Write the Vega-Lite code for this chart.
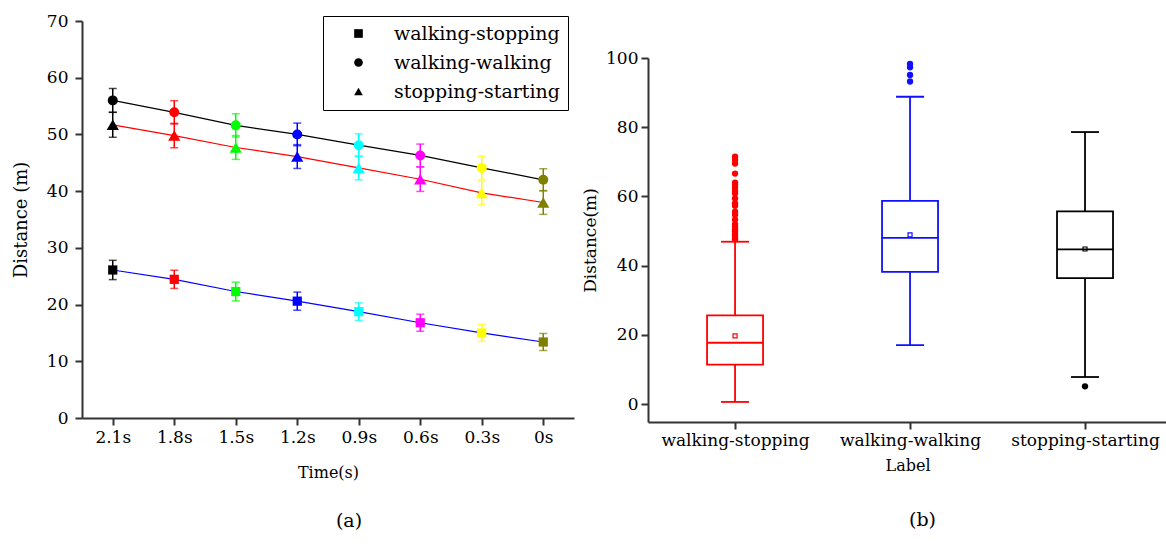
{
  "$schema": "https://vega.github.io/schema/vega-lite/v6.json",
  "background": "white",
  "padding": {"left": 12, "top": 12, "right": 0, "bottom": 0},
  "datasets": {
    "timeline": [
      {"time": "2.1s", "series": "walking-stopping", "dist": 26.1, "err": 1.7},
      {"time": "1.8s", "series": "walking-stopping", "dist": 24.45, "err": 1.6},
      {"time": "1.5s", "series": "walking-stopping", "dist": 22.3, "err": 1.65},
      {"time": "1.2s", "series": "walking-stopping", "dist": 20.6, "err": 1.6},
      {"time": "0.9s", "series": "walking-stopping", "dist": 18.75, "err": 1.55},
      {"time": "0.6s", "series": "walking-stopping", "dist": 16.8, "err": 1.5},
      {"time": "0.3s", "series": "walking-stopping", "dist": 15.0, "err": 1.5},
      {"time": "0s", "series": "walking-stopping", "dist": 13.4, "err": 1.5},
      {"time": "2.1s", "series": "walking-walking", "dist": 56.0, "err": 2.1},
      {"time": "1.8s", "series": "walking-walking", "dist": 53.9, "err": 2.05},
      {"time": "1.5s", "series": "walking-walking", "dist": 51.6, "err": 2.05},
      {"time": "1.2s", "series": "walking-walking", "dist": 50.0, "err": 2.0},
      {"time": "0.9s", "series": "walking-walking", "dist": 48.1, "err": 2.0},
      {"time": "0.6s", "series": "walking-walking", "dist": 46.3, "err": 2.0},
      {"time": "0.3s", "series": "walking-walking", "dist": 44.1, "err": 2.05},
      {"time": "0s", "series": "walking-walking", "dist": 42.0, "err": 1.95},
      {"time": "2.1s", "series": "stopping-starting", "dist": 51.7, "err": 2.2},
      {"time": "1.8s", "series": "stopping-starting", "dist": 49.8, "err": 2.15},
      {"time": "1.5s", "series": "stopping-starting", "dist": 47.7, "err": 2.1},
      {"time": "1.2s", "series": "stopping-starting", "dist": 46.1, "err": 2.1},
      {"time": "0.9s", "series": "stopping-starting", "dist": 44.1, "err": 2.1},
      {"time": "0.6s", "series": "stopping-starting", "dist": 42.1, "err": 2.15},
      {"time": "0.3s", "series": "stopping-starting", "dist": 39.7, "err": 2.05},
      {"time": "0s", "series": "stopping-starting", "dist": 38.0, "err": 2.1}
    ],
    "boxstats": [
      {"label": "walking-stopping", "lower": 0.6, "q1": 11.4, "median": 17.7, "q3": 25.6, "upper": 46.9, "mean": 19.7},
      {"label": "walking-walking", "lower": 17.0, "q1": 38.2, "median": 48.0, "q3": 58.7, "upper": 88.8, "mean": 48.9},
      {"label": "stopping-starting", "lower": 7.8, "q1": 36.4, "median": 44.7, "q3": 55.7, "upper": 78.6, "mean": 44.8}
    ],
    "outliers": [
      {"label": "walking-stopping", "value": 71.5},
      {"label": "walking-stopping", "value": 70.6},
      {"label": "walking-stopping", "value": 69.5},
      {"label": "walking-stopping", "value": 66.6},
      {"label": "walking-stopping", "value": 64.0},
      {"label": "walking-stopping", "value": 63.4},
      {"label": "walking-stopping", "value": 62.6},
      {"label": "walking-stopping", "value": 61.6},
      {"label": "walking-stopping", "value": 60.9},
      {"label": "walking-stopping", "value": 59.4},
      {"label": "walking-stopping", "value": 58.0},
      {"label": "walking-stopping", "value": 57.3},
      {"label": "walking-stopping", "value": 55.6},
      {"label": "walking-stopping", "value": 54.7},
      {"label": "walking-stopping", "value": 53.3},
      {"label": "walking-stopping", "value": 52.0},
      {"label": "walking-stopping", "value": 51.2},
      {"label": "walking-stopping", "value": 50.5},
      {"label": "walking-stopping", "value": 49.9},
      {"label": "walking-stopping", "value": 49.3},
      {"label": "walking-stopping", "value": 48.7},
      {"label": "walking-stopping", "value": 48.1},
      {"label": "walking-stopping", "value": 47.6},
      {"label": "walking-walking", "value": 98.3},
      {"label": "walking-walking", "value": 97.3},
      {"label": "walking-walking", "value": 95.1},
      {"label": "walking-walking", "value": 93.2},
      {"label": "stopping-starting", "value": 5.1}
    ]
  },
  "spacing": 7,
  "resolve": {"scale": {"color": "independent", "shape": "independent", "x": "independent", "y": "independent"}},
  "hconcat": [
    {
      "width": 492,
      "height": 397,
      "data": {"name": "timeline"},
      "title": {"text": "(a)", "orient": "bottom", "anchor": "middle", "frame": "group", "dx": 21, "offset": 32, "fontSize": 19},
      "encoding": {
        "x": {
          "field": "time", "type": "ordinal",
          "sort": ["2.1s", "1.8s", "1.5s", "1.2s", "0.9s", "0.6s", "0.3s", "0s"],
          "scale": {"type": "point", "padding": 0.5},
          "axis": {"title": "Time(s)", "labelAngle": 0, "tickSize": 7, "labelPadding": 4, "labelFontSize": 17, "titleFontSize": 16, "titlePadding": 19}
        },
        "y": {
          "field": "dist", "type": "quantitative",
          "scale": {"domain": [0, 70], "nice": false},
          "axis": {"title": "Distance (m)", "values": [0, 10, 20, 30, 40, 50, 60, 70], "tickSize": 7, "labelPadding": 7, "labelFontSize": 17, "titleFontSize": 18, "titlePadding": 16}
        }
      },
      "layer": [
        {
          "transform": [{"filter": "datum.series === 'walking-stopping'"}],
          "mark": {"type": "line", "strokeWidth": 1.2, "color": "#0000ff"},
          "encoding": {}
        },
        {
          "transform": [{"filter": "datum.series === 'walking-walking'"}],
          "mark": {"type": "line", "strokeWidth": 1.2, "color": "#000000"},
          "encoding": {}
        },
        {
          "transform": [{"filter": "datum.series === 'stopping-starting'"}],
          "mark": {"type": "line", "strokeWidth": 1.2, "color": "#ff0000"},
          "encoding": {}
        },
        {
          "mark": {"type": "errorbar", "ticks": true, "size": 8, "thickness": 1.5},
          "encoding": {
            "yError": {"field": "err"},
            "color": {
              "field": "time", "type": "ordinal",
              "scale": {"domain": ["2.1s", "1.8s", "1.5s", "1.2s", "0.9s", "0.6s", "0.3s", "0s"], "range": ["#000000", "#ff0000", "#00ff00", "#0000ff", "#00ffff", "#ff00ff", "#ffff00", "#808000"]},
              "legend": null
            }
          }
        },
        {
          "transform": [{"filter": "datum.series === 'walking-stopping'"}],
          "mark": {"type": "point", "filled": true, "size": 85, "opacity": 1},
          "encoding": {
            "color": {"field": "time", "type": "ordinal", "legend": null},
            "shape": {
              "field": "series", "type": "nominal",
              "scale": {"domain": ["walking-stopping", "walking-walking", "stopping-starting"], "range": ["square", "circle", "triangle-up"]},
              "legend": {
                "orient": "none", "legendX": 241, "legendY": -5, "title": null,
                "strokeColor": "black", "fillColor": "white", "padding": 8,
                "labelFont": "DejaVu Serif", "labelFontSize": 19, "labelColor": "black", "labelLimit": 400,
                "symbolFillColor": "black", "symbolStrokeWidth": 0, "symbolSize": 75,
                "symbolOffset": 18, "labelOffset": 26, "rowPadding": 9
              }
            }
          }
        },
        {
          "transform": [{"filter": "datum.series === 'walking-walking'"}],
          "mark": {"type": "point", "filled": true, "size": 100, "opacity": 1},
          "encoding": {
            "color": {"field": "time", "type": "ordinal", "legend": null},
            "shape": {"field": "series", "type": "nominal"}
          }
        },
        {
          "transform": [{"filter": "datum.series === 'stopping-starting'"}],
          "mark": {"type": "point", "filled": true, "size": 150, "opacity": 1},
          "encoding": {
            "color": {"field": "time", "type": "ordinal", "legend": null},
            "shape": {"field": "series", "type": "nominal"}
          }
        }
      ]
    },
    {
      "spacing": 27,
      "resolve": {"scale": {"color": "independent"}},
      "vconcat": [
        {
          "width": 1,
          "height": 1,
          "data": {"values": []},
          "mark": {"type": "point"},
          "encoding": {}
        },
        {
          "width": 519,
          "height": 364,
          "data": {"name": "boxstats"},
          "title": {"text": "(b)", "orient": "bottom", "anchor": "middle", "frame": "group", "dx": 15, "offset": 37, "fontSize": 19},
          "encoding": {
            "x": {
              "field": "label", "type": "nominal",
              "sort": ["walking-stopping", "walking-walking", "stopping-starting"],
              "scale": {"type": "point", "padding": 0.483, "align": 0.515},
              "axis": {"title": "Label", "labelAngle": 0, "tickSize": 7, "labelPadding": 3.5, "labelFontSize": 17, "titleFontSize": 16, "titlePadding": 9}
            },
            "color": {
              "field": "label", "type": "nominal",
              "scale": {"domain": ["walking-stopping", "walking-walking", "stopping-starting"], "range": ["#ff0000", "#1010ff", "#000000"]},
              "legend": null
            }
          },
          "layer": [
            {
              "mark": {"type": "rule", "strokeWidth": 1.8},
              "encoding": {
                "y": {
                  "field": "lower", "type": "quantitative",
                  "scale": {"domain": [-5.2, 100], "nice": false, "zero": false},
                  "axis": {
                    "title": "Distance(m)",
                    "values": [0, 10, 20, 30, 40, 50, 60, 70, 80, 90, 100],
                    "labelExpr": "datum.value % 20 === 0 ? datum.label : ''",
                    "tickSize": {"condition": {"test": "datum.value % 20 === 0", "value": 7}, "value": 3},
                    "labelPadding": 3, "labelFontSize": 17, "titleFontSize": 17, "titlePadding": 6
                  }
                },
                "y2": {"field": "q1"}
              }
            },
            {
              "mark": {"type": "rule", "strokeWidth": 1.8},
              "encoding": {"y": {"field": "q3", "type": "quantitative"}, "y2": {"field": "upper"}}
            },
            {
              "mark": {"type": "bar", "filled": false, "size": 56, "strokeWidth": 1.8},
              "encoding": {"y": {"field": "q1", "type": "quantitative"}, "y2": {"field": "q3"}}
            },
            {
              "mark": {"type": "tick", "size": 56, "thickness": 1.8, "opacity": 1},
              "encoding": {"y": {"field": "median", "type": "quantitative"}}
            },
            {
              "mark": {"type": "tick", "size": 28, "thickness": 1.8, "opacity": 1},
              "encoding": {"y": {"field": "lower", "type": "quantitative"}}
            },
            {
              "mark": {"type": "tick", "size": 28, "thickness": 1.8, "opacity": 1},
              "encoding": {"y": {"field": "upper", "type": "quantitative"}}
            },
            {
              "mark": {"type": "point", "shape": "square", "size": 16, "filled": false, "strokeWidth": 1.2, "opacity": 1},
              "encoding": {"y": {"field": "mean", "type": "quantitative"}}
            },
            {
              "data": {"name": "outliers"},
              "mark": {"type": "point", "shape": "circle", "filled": true, "size": 40, "opacity": 1},
              "encoding": {"y": {"field": "value", "type": "quantitative"}}
            }
          ]
        }
      ]
    }
  ],
  "config": {
    "view": {"stroke": null},
    "font": "DejaVu Serif",
    "axis": {
      "labelFont": "DejaVu Serif", "titleFont": "DejaVu Serif",
      "labelColor": "#000000", "titleColor": "#000000", "titleFontWeight": "normal",
      "domainColor": "#333333", "tickColor": "#333333", "domainWidth": 2, "tickWidth": 2, "grid": false
    },
    "legend": {"labelFont": "DejaVu Serif"},
    "title": {"font": "DejaVu Serif", "fontWeight": "normal", "color": "#000000"}
  }
}
